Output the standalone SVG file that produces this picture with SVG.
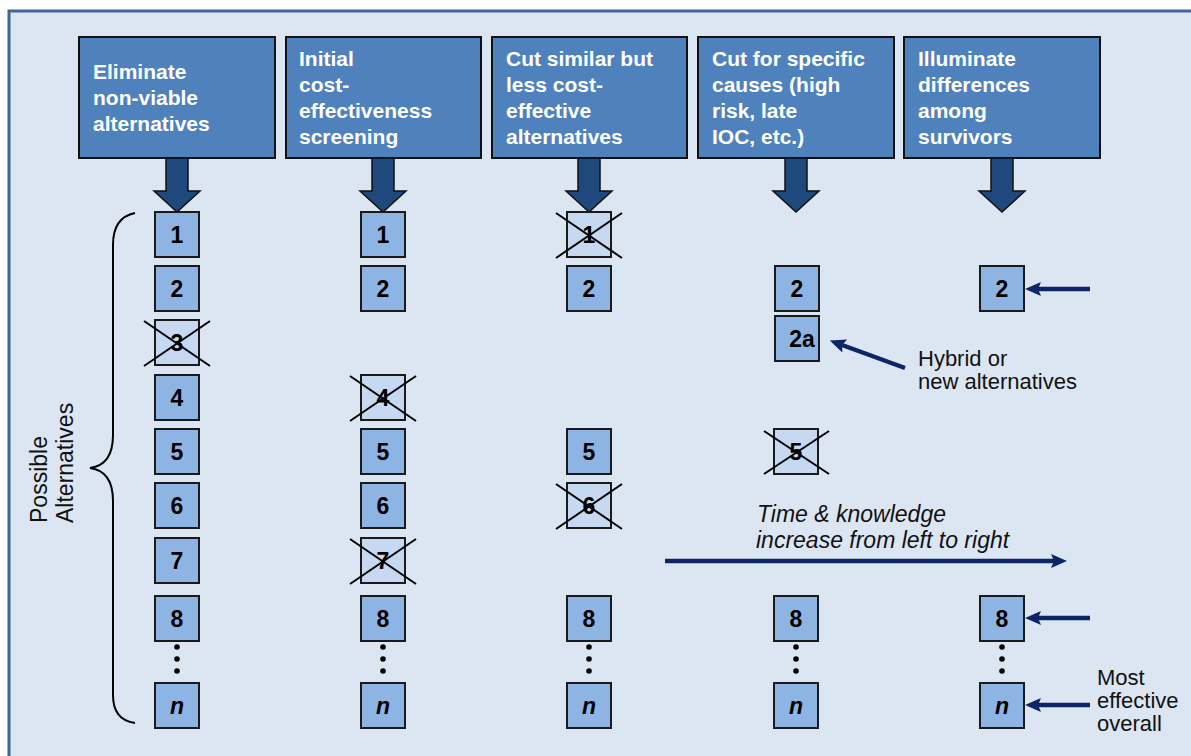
<svg xmlns="http://www.w3.org/2000/svg" width="1191" height="756" viewBox="0 0 1191 756">
<defs>
<style>
.hdr rect{fill:#4f81bd;stroke:#111;stroke-width:2}
.hdr text{fill:#fff;font-family:"Liberation Sans",Arial,sans-serif;font-weight:bold;font-size:21px}
.blk{fill:#1f497d;stroke:#111;stroke-width:1.5}
.bx rect{fill:#8eb4e3;stroke:#1a1a1a;stroke-width:2}
.bx.cut rect{fill:#c6d9f1}
.bx text{font-family:"Liberation Sans",Arial,sans-serif;font-weight:bold;font-size:23px;fill:#000;text-anchor:middle}
.bx .it{font-style:italic}
.x{stroke:#000;stroke-width:2}
.ann{font-family:"Liberation Sans",Arial,sans-serif;font-size:23px;fill:#111}
.ann2{font-family:"Liberation Sans",Arial,sans-serif;font-size:22px;fill:#111}
.nav{stroke:#0b2566;stroke-width:4.5;fill:none}
.dot{fill:#000}
</style>
<marker id="ah" markerUnits="userSpaceOnUse" markerWidth="18" markerHeight="16" refX="3" refY="7" orient="auto">
<path d="M0,0 L16,7 L0,14 L3,7 z" fill="#0b2566"/>
</marker>
</defs>
<rect x="0" y="0" width="1191" height="756" fill="#fff"/>
<rect x="9" y="11" width="1200" height="760" fill="#dce6f2" stroke="#3f6496" stroke-width="3"/>

<g id="h1" class="hdr"><rect x="79" y="37" width="196" height="121"/><text x="93" y="79">Eliminate</text><text x="93" y="105">non-viable</text><text x="93" y="131">alternatives</text></g>
<g id="h2" class="hdr"><rect x="286" y="37" width="195" height="121"/><text x="299" y="66">Initial</text><text x="299" y="92">cost-</text><text x="299" y="118">effectiveness</text><text x="299" y="144">screening</text></g>
<g id="h3" class="hdr"><rect x="492" y="37" width="195" height="121"/><text x="506" y="66">Cut similar but</text><text x="506" y="92">less cost-</text><text x="506" y="118">effective</text><text x="506" y="144">alternatives</text></g>
<g id="h4" class="hdr"><rect x="698" y="37" width="196" height="121"/><text x="712" y="66">Cut for specific</text><text x="712" y="92">causes (high</text><text x="712" y="118">risk, late</text><text x="712" y="144">IOC, etc.)</text></g>
<g id="h5" class="hdr"><rect x="904" y="37" width="196" height="121"/><text x="918" y="66">Illuminate</text><text x="918" y="92">differences</text><text x="918" y="118">among</text><text x="918" y="144">survivors</text></g>

<g id="blockarrows">
<path class="blk" d="M166,158 h22 v33 h12 l-23,21 l-23,-21 h12 z"/>
<path class="blk" d="M372,158 h22 v33 h12 l-23,21 l-23,-21 h12 z"/>
<path class="blk" d="M578,158 h22 v33 h12 l-23,21 l-23,-21 h12 z"/>
<path class="blk" d="M785,158 h22 v33 h12 l-23,21 l-23,-21 h12 z"/>
<path class="blk" d="M991,158 h22 v33 h12 l-23,21 l-23,-21 h12 z"/>
</g>

<!-- column 1 -->
<g id="c1r1" class="bx"><rect x="155" y="212" width="44" height="45"/><text x="177" y="243">1</text></g>
<g id="c1r2" class="bx"><rect x="155" y="266" width="44" height="45"/><text x="177" y="297">2</text></g>
<g id="c1r3" class="bx cut"><rect x="155" y="320" width="44" height="45"/><text x="177" y="351">3</text><line class="x" x1="144" y1="321" x2="210" y2="366"/><line class="x" x1="144" y1="366" x2="210" y2="321"/></g>
<g id="c1r4" class="bx"><rect x="155" y="375" width="44" height="45"/><text x="177" y="406">4</text></g>
<g id="c1r5" class="bx"><rect x="155" y="429" width="44" height="45"/><text x="177" y="460">5</text></g>
<g id="c1r6" class="bx"><rect x="155" y="483" width="44" height="45"/><text x="177" y="514">6</text></g>
<g id="c1r7" class="bx"><rect x="155" y="538" width="44" height="45"/><text x="177" y="569">7</text></g>
<g id="c1r8" class="bx"><rect x="155" y="596" width="44" height="45"/><text x="177" y="627">8</text></g>
<g id="c1rn" class="bx"><rect x="155" y="683" width="44" height="45"/><text class="it" x="177" y="714">n</text></g>

<!-- column 2 -->
<g id="c2r1" class="bx"><rect x="361" y="212" width="44" height="45"/><text x="383" y="243">1</text></g>
<g id="c2r2" class="bx"><rect x="361" y="266" width="44" height="45"/><text x="383" y="297">2</text></g>
<g id="c2r4" class="bx cut"><rect x="361" y="375" width="44" height="45"/><text x="383" y="406">4</text><line class="x" x1="350" y1="376" x2="416" y2="421"/><line class="x" x1="350" y1="421" x2="416" y2="376"/></g>
<g id="c2r5" class="bx"><rect x="361" y="429" width="44" height="45"/><text x="383" y="460">5</text></g>
<g id="c2r6" class="bx"><rect x="361" y="483" width="44" height="45"/><text x="383" y="514">6</text></g>
<g id="c2r7" class="bx cut"><rect x="361" y="538" width="44" height="45"/><text x="383" y="569">7</text><line class="x" x1="350" y1="539" x2="416" y2="584"/><line class="x" x1="350" y1="584" x2="416" y2="539"/></g>
<g id="c2r8" class="bx"><rect x="361" y="596" width="44" height="45"/><text x="383" y="627">8</text></g>
<g id="c2rn" class="bx"><rect x="361" y="683" width="44" height="45"/><text class="it" x="383" y="714">n</text></g>

<!-- column 3 -->
<g id="c3r1" class="bx cut"><rect x="567" y="212" width="44" height="45"/><text x="589" y="243">1</text><line class="x" x1="556" y1="213" x2="622" y2="258"/><line class="x" x1="556" y1="258" x2="622" y2="213"/></g>
<g id="c3r2" class="bx"><rect x="567" y="266" width="44" height="45"/><text x="589" y="297">2</text></g>
<g id="c3r5" class="bx"><rect x="567" y="429" width="44" height="45"/><text x="589" y="460">5</text></g>
<g id="c3r6" class="bx cut"><rect x="567" y="483" width="44" height="45"/><text x="589" y="514">6</text><line class="x" x1="556" y1="484" x2="622" y2="529"/><line class="x" x1="556" y1="529" x2="622" y2="484"/></g>
<g id="c3r8" class="bx"><rect x="567" y="596" width="44" height="45"/><text x="589" y="627">8</text></g>
<g id="c3rn" class="bx"><rect x="567" y="683" width="44" height="45"/><text class="it" x="589" y="714">n</text></g>

<!-- column 4 -->
<g id="c4r2" class="bx"><rect x="775" y="266" width="44" height="45"/><text x="797" y="297">2</text></g>
<g id="c4r2a" class="bx"><rect x="775" y="316" width="44" height="45"/><text x="802" y="347">2a</text></g>
<g id="c4r5" class="bx cut"><rect x="774" y="429" width="44" height="45"/><text x="796" y="460">5</text><line class="x" x1="764" y1="431" x2="829" y2="474"/><line class="x" x1="764" y1="474" x2="829" y2="431"/></g>
<g id="c4r8" class="bx"><rect x="774" y="596" width="44" height="45"/><text x="796" y="627">8</text></g>
<g id="c4rn" class="bx"><rect x="774" y="683" width="44" height="45"/><text class="it" x="796" y="714">n</text></g>

<!-- column 5 -->
<g id="c5r2" class="bx"><rect x="980" y="266" width="44" height="45"/><text x="1002" y="297">2</text></g>
<g id="c5r8" class="bx"><rect x="980" y="596" width="44" height="45"/><text x="1002" y="627">8</text></g>
<g id="c5rn" class="bx"><rect x="980" y="683" width="44" height="45"/><text class="it" x="1002" y="714">n</text></g>

<g id="dots">
<circle class="dot" cx="177" cy="647" r="2.8"/><circle class="dot" cx="177" cy="659" r="2.8"/><circle class="dot" cx="177" cy="671" r="2.8"/>
<circle class="dot" cx="383" cy="647" r="2.8"/><circle class="dot" cx="383" cy="659" r="2.8"/><circle class="dot" cx="383" cy="671" r="2.8"/>
<circle class="dot" cx="589" cy="647" r="2.8"/><circle class="dot" cx="589" cy="659" r="2.8"/><circle class="dot" cx="589" cy="671" r="2.8"/>
<circle class="dot" cx="796" cy="647" r="2.8"/><circle class="dot" cx="796" cy="659" r="2.8"/><circle class="dot" cx="796" cy="671" r="2.8"/>
<circle class="dot" cx="1002" cy="647" r="2.8"/><circle class="dot" cx="1002" cy="659" r="2.8"/><circle class="dot" cx="1002" cy="671" r="2.8"/>
</g>

<g id="brace">
<path d="M135,213 C120,216 113,228 113,245 L113,435 C113,455 105,466 90,468 C105,470 113,481 113,501 L113,695 C113,712 120,721 135,723" fill="none" stroke="#000" stroke-width="2"/>
<text class="ann" transform="translate(47,523) rotate(-90)"><tspan x="0" y="0">Possible</tspan><tspan x="0" y="26">Alternatives</tspan></text>
</g>

<g id="connectors">
<line class="nav" x1="1090" y1="289" x2="1038" y2="289" marker-end="url(#ah)"/>
<line class="nav" x1="1090" y1="618" x2="1038" y2="618" marker-end="url(#ah)"/>
<line class="nav" x1="1090" y1="705" x2="1038" y2="705" marker-end="url(#ah)"/>
<line class="nav" x1="905" y1="368" x2="842" y2="345" marker-end="url(#ah)"/>
<line class="nav" x1="665" y1="561" x2="1054" y2="561" marker-end="url(#ah)"/>
</g>

<g id="labels">
<text class="ann2" x="918" y="366">Hybrid or</text>
<text class="ann2" x="918" y="389">new alternatives</text>
<text class="ann" x="757" y="522" font-style="italic">Time &amp; knowledge</text>
<text class="ann" x="756" y="548" font-style="italic">increase from left to right</text>
<text class="ann2" x="1097" y="685">Most</text>
<text class="ann2" x="1097" y="708">effective</text>
<text class="ann2" x="1097" y="731">overall</text>
</g>
</svg>
